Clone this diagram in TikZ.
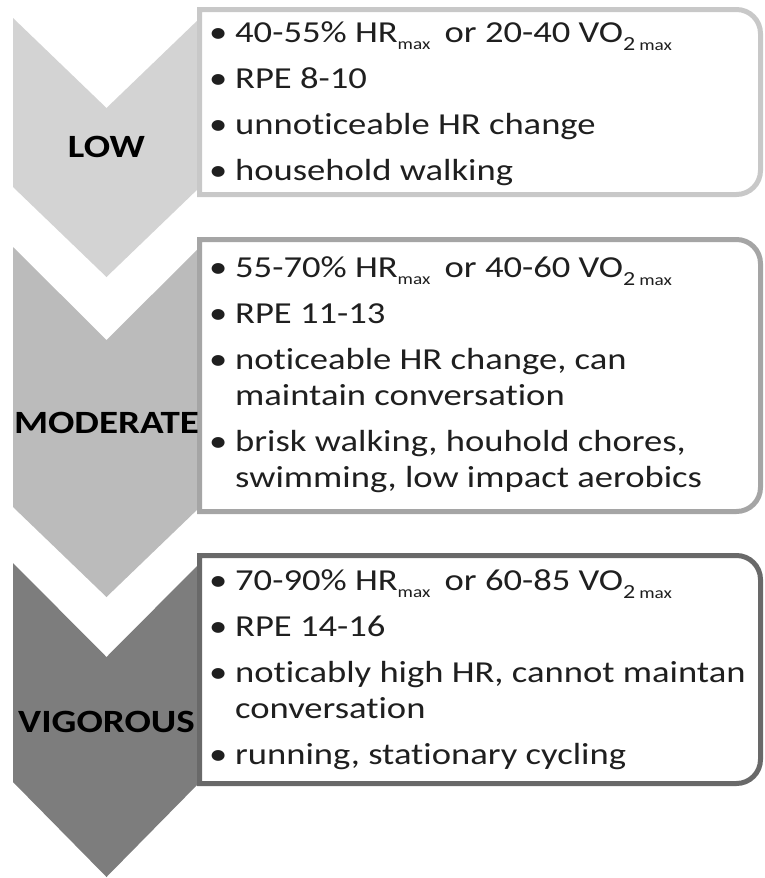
\documentclass[tikz,border=0pt]{standalone}
\usepackage{fontspec}
\setmainfont{Carlito}[FakeStretch=1.2, Ligatures=NoCommon]
\newcommand\lo[1]{\raisebox{-7pt}{\fontsize{16}{16}\selectfont #1}}
\newcommand\vo{VO\raisebox{-8pt}{\fontsize{20}{20}\selectfont 2}\hspace{4pt}\raisebox{-8pt}{\fontsize{16}{16}\selectfont max}}
\newcommand\itm[1]{\par\noindent\hangindent=26pt\hangafter=1\makebox[26pt][l]{•}#1\par}
\newcommand\gap{\vspace{10pt}}
\definecolor{chA}{RGB}{211,211,211}
\definecolor{chB}{RGB}{187,187,187}
\definecolor{chC}{RGB}{125,125,125}
\definecolor{bdA}{RGB}{200,200,200}
\definecolor{bdB}{RGB}{165,165,165}
\definecolor{bdC}{RGB}{105,105,105}
\tikzset{
  label/.style={anchor=base, inner sep=0pt, font=\fontsize{32.5}{32.5}\selectfont\bfseries, text=black},
  body/.style={anchor=base west, inner sep=0pt, text=black!88},
  boxline/.style={line width=5pt, fill=white},
}
\newcommand\boxpath[4]{% x1 y1 x2 y2 (centre line)
  (#1,#2) -- ({#3-24},#2) .. controls ({#3-10.75},#2) and (#3,{#2+10.75}) .. (#3,{#2+24})
  -- (#3,{#4-24}) .. controls (#3,{#4-10.75}) and ({#3-10.75},#4) .. ({#3-24},#4)
  -- (#1,#4) -- cycle}
\begin{document}
\begin{tikzpicture}[x=1pt,y=-1pt]
\useasboundingbox (0,0) rectangle (765,878);
% chevrons
\fill[chA] (13,18) -- (106.5,108) -- (200,18) -- (200,187) -- (106.5,277) -- (13,187) -- cycle;
\fill[chB] (13,247) -- (106.5,340) -- (200,247) -- (200,507) -- (106.5,597) -- (13,507) -- cycle;
\fill[chC] (13,563) -- (106.5,657) -- (200,563) -- (200,782) -- (106.5,877) -- (13,782) -- cycle;
% boxes
\draw[boxline, draw=bdA] \boxpath{199.5}{9.5}{760.5}{194.5};
\draw[boxline, draw=bdB] \boxpath{199.5}{239.5}{760.5}{511.5};
\draw[boxline, draw=bdC] \boxpath{199.5}{555.5}{760.5}{783.5};
% labels
\node[label] (low) at (106.5,157) {LOW};
\node[label] (mod) at (106.5,433) {MODERATE};
\node[label] (vig) at (106.5,732) {VIGOROUS};
% texts
\node[body] (tA) at (209,42) {\parbox[t]{548pt}{\fontsize{30.5}{36}\selectfont
\itm{40-55\% HR\lo{max}\hspace{6pt} or 20-40 \vo}\gap
\itm{RPE 8-10}\gap
\itm{unnoticeable HR change}\gap
\itm{household walking}}};
\node[body] (tB) at (209,277) {\parbox[t]{548pt}{\fontsize{30.5}{36}\selectfont
\itm{55-70\% HR\lo{max}\hspace{6pt} or 40-60 \vo}\gap
\itm{RPE 11-13}\gap
\itm{noticeable HR change, can\newline maintain conversation}\gap
\itm{brisk walking, houhold chores,\newline swimming, low impact aerobics}}};
\node[body] (tC) at (209,590) {\parbox[t]{548pt}{\fontsize{30.5}{36}\selectfont
\itm{70-90\% HR\lo{max}\hspace{6pt} or 60-85 \vo}\gap
\itm{RPE 14-16}\gap
\itm{noticably high HR, cannot maintan\newline conversation}\gap
\itm{running, stationary cycling}}};
\end{tikzpicture}
\end{document}
